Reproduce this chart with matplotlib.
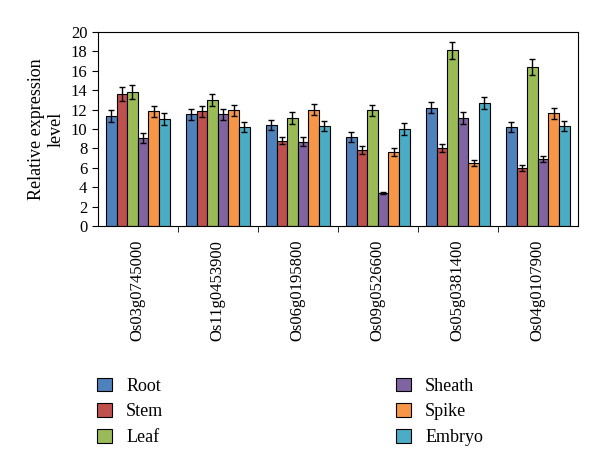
import matplotlib
matplotlib.use('Agg')
import matplotlib.pyplot as plt
import numpy as np

plt.rcParams['font.family'] = ['Liberation Serif', 'DejaVu Serif']

genes = ['Os03g0745000', 'Os11g0453900', 'Os06g0195800',
         'Os09g0526600', 'Os05g0381400', 'Os04g0107900']
tissues = ['Root', 'Stem', 'Leaf', 'Sheath', 'Spike', 'Embryo']
colors = ['#4F81BD', '#C0504D', '#9BBB59', '#8064A2', '#F79646', '#4BACC6']

# values per tissue, one entry per gene
root = [11.3, 11.5, 10.4, 9.2, 12.2, 10.2]
stem = [13.6, 11.8, 8.8, 7.8, 8.0, 6.0]
leaf = [13.8, 13.0, 11.1, 11.9, 18.1, 16.4]
sheath = [9.1, 11.5, 8.7, 3.4, 11.1, 6.9]
spike = [11.8, 11.9, 12.0, 7.6, 6.5, 11.6]
embryo = [11.0, 10.2, 10.3, 10.0, 12.7, 10.3]

root_err = [0.6, 0.6, 0.5, 0.5, 0.6, 0.5]
stem_err = [0.7, 0.6, 0.4, 0.4, 0.4, 0.3]
leaf_err = [0.7, 0.6, 0.6, 0.6, 0.9, 0.8]
sheath_err = [0.5, 0.6, 0.5, 0.15, 0.6, 0.3]
spike_err = [0.6, 0.6, 0.6, 0.4, 0.3, 0.6]
embryo_err = [0.6, 0.5, 0.5, 0.6, 0.6, 0.5]

series = [root, stem, leaf, sheath, spike, embryo]
errors = [root_err, stem_err, leaf_err, sheath_err, spike_err, embryo_err]

fig = plt.figure(figsize=(6, 4.68), dpi=100)
ax = fig.add_axes([0.163, 0.517, 0.8, 0.415])

x = np.arange(len(genes))
w = 0.133
for i, (vals, err) in enumerate(zip(series, errors)):
    ax.bar(x + (i - 2.5) * w, vals, w, yerr=err, color=colors[i],
           edgecolor='black', linewidth=0.8, label=tissues[i],
           error_kw=dict(ecolor='black', elinewidth=1, capsize=2.5, capthick=1))

ax.set_xlim(-0.5, len(genes) - 0.5)
ax.set_ylim(0, 20)
ax.set_yticks(range(0, 21, 2))
ax.tick_params(axis='y', labelsize=12, direction='out', length=4)
ax.set_xticks(x)
ax.set_xticklabels(genes, rotation=90, fontsize=12)
ax.tick_params(axis='x', length=0, pad=10)
ax.set_xticks(np.arange(0.5, len(genes) - 0.5, 1), minor=True)
ax.tick_params(axis='x', which='minor', length=4, direction='out')
ax.set_ylabel('Relative expression\nlevel', fontsize=13)

fig.legend(loc='lower left', bbox_to_anchor=(0.135, 0.012), ncol=2,
           frameon=False, fontsize=13, columnspacing=12.9, handlelength=0.8,
           handleheight=0.8, labelspacing=0.47, handletextpad=0.8)

fig.savefig('out.png', dpi=100)
